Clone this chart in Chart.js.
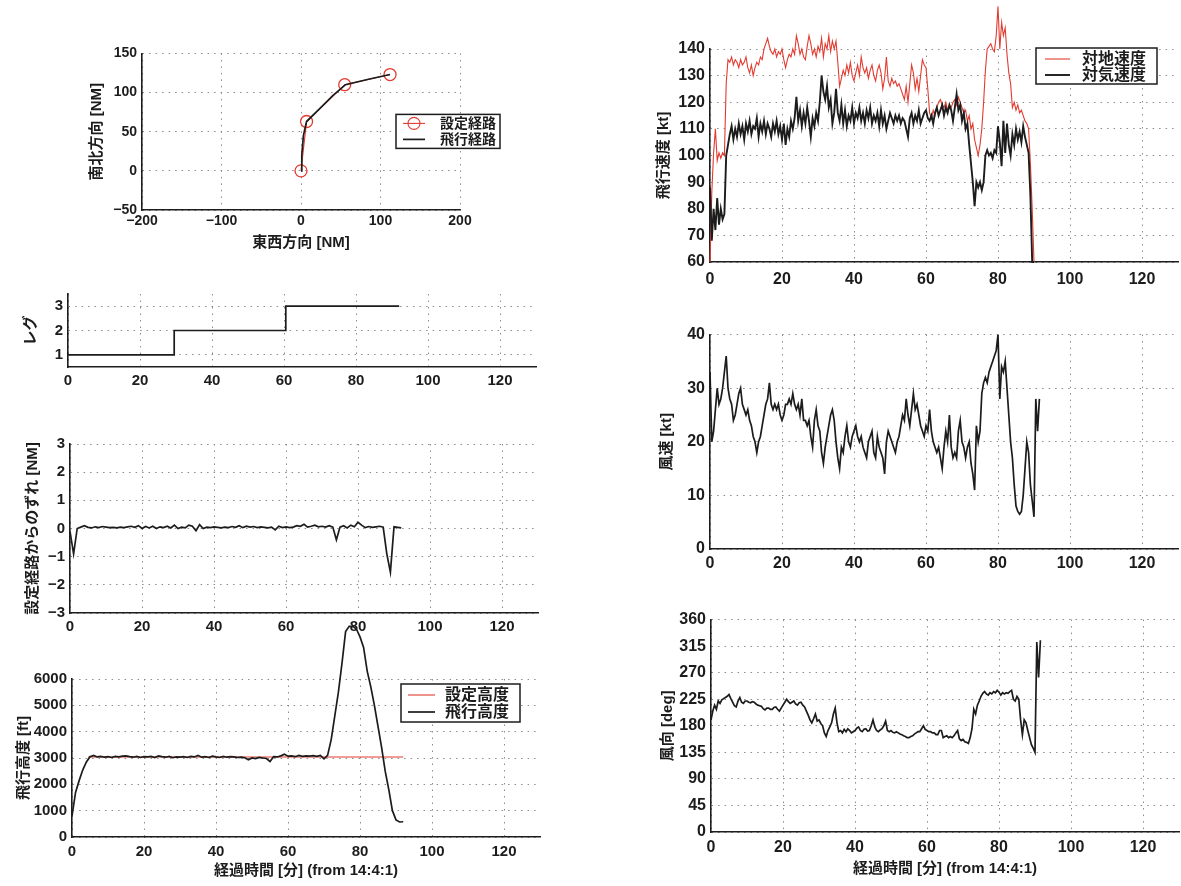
<!DOCTYPE html>
<html>
<head>
<meta charset="utf-8">
<script src="https://cdn.jsdelivr.net/npm/chart.js@4.4.1/dist/chart.umd.min.js"></script>
<style>
  html, body { margin: 0; padding: 0; background: #fff; }
  #fig { position: relative; width: 1181px; height: 886px; overflow: hidden; background: #fff; }
  #fig canvas { position: absolute; }
</style>
</head>
<body>
<div id="fig"></div>
<script>
// ---- 経路 (NM) ----
const routeEW = [0, 7, 55, 112];
const routeNS = [0, 63, 110, 123];
const flightEW = [0, 1, 3, 7, 20, 40, 56, 85, 112];
const flightNS = [0, 20, 45, 63, 76, 96, 110, 117, 123];
const routeXTicks = [-200, -100, 0, 100, 200];
const routeYTicks = [-50, 0, 50, 100, 150];

// ---- レグ ----
const legStart = [0, 29.5, 60.5, 92];
const legNo = [1, 2, 3, 3];
const legTicks = [1, 2, 3];

// 経過時間の目盛り
const timeTicks = [0, 20, 40, 60, 80, 100, 120];

// ---- 設定経路からのずれ [NM], 1分毎 ----
const devStep = 1;
const deviation = [
  -0.1, -0.9, 0.0, 0.05, 0.1, 0.04, 0.02, 0.06, 0.03, 0.07,
  0.05, 0.03, 0.04, 0.02, 0.05, 0.03, 0.06, 0.08, 0.04, 0.1,
  0.0, 0.07, 0.02, 0.08, 0.0, 0.06, 0.03, 0.08, 0.02, 0.12,
  0.0, 0.05, 0.02, 0.12, 0.08, -0.08, 0.14, 0.0, 0.05, 0.03,
  0.06, 0.04, 0.02, 0.05, 0.03, 0.07, 0.04, 0.1, 0.03, 0.08,
  0.05, 0.07, 0.03, 0.06, 0.04, 0.02, 0.05, -0.05, 0.08, 0.03,
  0.06, 0.03, 0.05, 0.1, 0.08, 0.15, 0.05, 0.08, 0.12, 0.06,
  0.08, 0.05, 0.1, 0.05, -0.4, 0.05, 0.1, 0.02, 0.12, 0.06,
  0.22, 0.12, 0.03, 0.07, 0.04, 0.06, 0.08, 0.05, -0.9, -1.55,
  0.06, 0.04, 0.02
];
const devTicks = [-3, -2, -1, 0, 1, 2, 3];

// ---- 高度 [ft], 1分毎 ----
const altStep = 1;
const altitude = [
  800, 1700, 2150, 2550, 2850, 3050, 3100, 3040, 3060, 3030,
  3050, 3020, 3060, 3040, 3070, 3080, 3050, 3030, 3060, 3020,
  3050, 3040, 3060, 3020, 3080, 3050, 3030, 3060, 3010, 3040,
  3030, 3050, 3020, 3060, 3040, 3100, 3030, 3050, 3020, 3070,
  3040, 3020, 3060, 3030, 3050, 3040, 3020, 3030, 3010, 2930,
  3000, 2980, 3020, 3000, 2980, 2870, 3050, 3040, 3080, 3140,
  3070, 3080, 3050, 3100, 3060, 3080, 3070, 3090, 3060, 3100,
  2970, 3100, 3700, 4600, 5500, 6600, 7800, 8000, 8000, 7900,
  7600, 7200, 6300, 5700, 5000, 4200, 3400, 2500, 1800, 1000,
  650, 570, 580
];
const setAltTime = [4.5, 92];
const setAlt = [3040, 3040];
const altTicks = [0, 1000, 2000, 3000, 4000, 5000, 6000];

// ---- 速度 [kt], 0.5分毎 ----
const spdStep = 0.5;
const groundSpeed = [
  60, 86, 101, 110, 98, 101, 99, 101, 100, 127,
  136, 135, 137, 134, 136, 135, 133, 136, 134, 135,
  137, 133, 131, 134, 130, 133, 135, 134, 137, 136,
  140, 142, 144, 141, 139, 138, 140, 137, 139, 138,
  140, 136, 133, 136, 138, 137, 140, 138, 145, 142,
  138, 140, 137, 136, 141, 145, 142, 138, 140, 137,
  141, 139, 144, 137, 142, 140, 145, 139, 143, 140,
  143, 135, 126, 129, 132, 130, 134, 131, 135, 130,
  128, 131, 134, 130, 137, 133, 131, 133, 129, 132,
  134, 130, 128, 132, 134, 131, 125, 129, 137, 128,
  126, 129, 127, 128, 126, 127, 125, 123, 121, 126,
  120, 127, 134, 131, 125, 129, 124, 130, 136, 134,
  133, 125, 116, 114, 117, 115, 118, 120, 121, 119,
  118, 120, 117, 119, 118, 120, 121, 119, 122, 120,
  118, 116, 117, 113, 115, 110, 112, 106, 103, 100,
  104, 110, 120, 132, 140, 141, 142, 140, 139, 145,
  156, 140, 150, 145, 148, 138, 131, 127, 118, 120,
  117, 119, 116, 117, 115, 113, 112, 110, 97, 80,
  60
];
const airSpeed = [
  88, 68, 80, 72, 84, 74, 80, 76, 78, 100,
  104, 108, 111, 106, 110, 107, 112, 108, 111, 106,
  112, 109, 113, 108, 111, 110, 114, 107, 112, 109,
  113, 108, 112, 110, 107, 112, 109, 113, 108, 111,
  106, 112, 104, 110, 107, 113, 110, 114, 122, 113,
  117, 111, 116, 112, 118, 113, 107, 114, 111, 116,
  113, 120, 130, 124, 121, 126, 118, 121, 112, 116,
  125, 116, 113, 119, 112, 117, 111, 115, 113, 118,
  112, 116, 114, 118, 113, 116, 112, 117, 114, 118,
  112, 115, 113, 116, 111, 117, 112, 115, 110, 113,
  116, 114, 112, 115, 113, 115, 112, 114, 113, 110,
  107, 114, 116, 112, 115, 113, 117, 112, 114, 116,
  117, 114, 113, 115, 112, 116, 118, 115, 117, 119,
  115, 118, 116, 119, 117, 113, 118, 123, 117, 119,
  113, 116, 110, 112, 104, 97, 90, 81, 90, 88,
  90, 87, 90, 100, 102, 100, 101, 99, 102, 101,
  111, 105, 96, 113, 101, 112, 104, 100, 108, 104,
  110, 106, 109, 105, 111, 107, 104, 101, 85, 60,
  60
];
const spdTicks = [60, 70, 80, 90, 100, 110, 120, 130, 140];

// ---- 風速 [kt] / 風向 [deg], 0.5分毎 ----
const windStep = 0.5;
const windSpeed = [
  33, 20, 22, 26, 30, 27, 28, 30, 33, 36,
  30, 28, 27, 24, 25, 27, 29, 30, 27, 26,
  25, 26, 24, 23, 21, 20, 18, 20, 21, 23,
  25, 27, 28, 31, 27, 26, 27, 26, 27, 25,
  24, 25, 27, 27, 28, 27, 29, 27, 26, 27,
  25, 28, 24, 24, 23, 24, 21, 19, 24, 26,
  23, 22, 18, 16, 19, 21, 23, 25, 26, 24,
  20, 17, 15, 19, 18, 21, 23, 20, 19, 21,
  22, 23, 21, 20, 21, 19, 18, 17, 20, 21,
  22, 18, 17, 21, 19, 18, 17, 14, 20, 22,
  21, 20, 19, 18, 20, 21, 23, 25, 24, 28,
  25, 23, 26, 29, 26, 27, 25, 23, 22, 21,
  23, 22, 26, 22, 20, 19, 18, 19, 17, 15,
  19, 22, 20, 25, 19, 17, 18, 17, 22, 24,
  20, 19, 17, 19, 20, 16, 14, 11, 23, 20,
  22, 29, 31, 32, 31, 33, 34, 35, 36, 37,
  40, 28, 34, 33, 35, 30, 25, 20, 17, 12,
  8, 7, 6.5, 7, 10, 15, 20, 18, 12, 9,
  6, 28, 22, 28
];
const windTicks = [0, 10, 20, 30, 40];
const windDir = [
  190, 205, 215, 208, 222, 218, 224, 226, 228, 230,
  233, 226, 220, 214, 212, 222, 228, 220, 218, 222,
  222, 220, 219, 221, 220, 217, 215, 214, 213, 209,
  207, 210, 210, 208, 208, 211, 212, 208, 205, 210,
  215, 220, 225, 221, 218, 220, 222, 217, 215, 219,
  220, 215, 212, 205, 198, 190, 185, 192, 200, 188,
  190, 184, 180, 168, 162, 172, 178, 185, 200, 210,
  185, 170, 172, 168, 174, 170, 175, 172, 168, 170,
  172, 176, 178, 172, 170, 174, 175, 171, 172, 180,
  190, 178, 172, 170, 173, 175, 180, 188, 172, 170,
  172, 169, 168, 170, 168, 166, 165, 163, 162, 160,
  160, 162, 163, 166, 168, 170, 170, 175, 180, 174,
  172, 170, 170, 168, 168, 165, 165, 172, 172, 160,
  162, 163, 160, 162, 160, 163, 168, 172, 158, 155,
  157, 153, 152, 150, 160, 175, 208, 200, 215, 222,
  230, 235, 238, 234, 232, 236, 234, 238, 236, 240,
  237, 232, 236, 234, 236, 235, 238, 240, 225, 222,
  230, 225, 190, 165, 190, 185, 172, 160, 148, 142,
  135, 322, 262, 325
];
const dirTicks = [0, 45, 90, 135, 180, 225, 270, 315, 360];

// ---- 描画 ----
const FONT = '"Liberation Sans", "Noto Sans CJK JP", sans-serif';
const INK = '#1c1c1c';
const RED = '#e23b30';
Chart.defaults.font.family = FONT;
Chart.defaults.color = INK;

const fmt = v => (v < 0 ? '\u2212' + Math.abs(v) : String(v));
const series = (vals, step) => vals.map((v, i) => ({ x: i * step, y: v }));
const pairs = (xs, ys) => xs.map((x, i) => ({ x: x, y: ys[i] }));
const X_TITLE = '経過時間 [分] (from 14:4:1)';

function axis(a, horizontal) {
  return {
    type: 'linear',
    min: a.min,
    max: a.max,
    afterBuildTicks: s => { s.ticks = a.ticks.map(v => ({ value: v })); },
    afterFit: s => { if (horizontal) s.height = a.size; else s.width = a.size; },
    grid: { color: '#8c8c8c', lineWidth: 1, drawTicks: false },
    border: { display: true, color: INK, width: 1.6, dash: [1.5, 5] },
    ticks: {
      color: INK,
      font: { size: a.font || 15, weight: 'bold' },
      padding: a.pad !== undefined ? a.pad : (horizontal ? 6 : 5),
      autoSkip: false,
      maxRotation: 0,
      callback: v => fmt(v)
    },
    title: a.title
      ? { display: true, text: a.title, color: INK, font: { size: 15, weight: 'bold' }, padding: 4 }
      : { display: false }
  };
}

// 枠付きの凡例 (MATLAB 風)
function boxLegend(L) {
  return {
    id: 'boxLegend',
    afterDatasetsDraw(chart) {
      const { ctx, chartArea } = chart;
      const x0 = chartArea.left + L.dx, y0 = chartArea.top + L.dy;
      ctx.save();
      ctx.fillStyle = '#fff';
      ctx.fillRect(x0, y0, L.w, L.h);
      ctx.strokeStyle = INK;
      ctx.lineWidth = 1.5;
      ctx.strokeRect(x0, y0, L.w, L.h);
      ctx.font = 'bold ' + L.size + 'px ' + FONT;
      ctx.textBaseline = 'middle';
      chart.data.datasets.forEach((ds, i) => {
        const y = y0 + L.rows[i];
        ctx.strokeStyle = ds.borderColor;
        ctx.lineWidth = ds.borderWidth;
        ctx.beginPath();
        ctx.moveTo(x0 + L.line[0], y);
        ctx.lineTo(x0 + L.line[1], y);
        ctx.stroke();
        if (ds.pointRadius) {
          ctx.beginPath();
          ctx.arc(x0 + (L.line[0] + L.line[1]) / 2, y, ds.pointRadius, 0, Math.PI * 2);
          ctx.stroke();
        }
        ctx.fillStyle = INK;
        ctx.fillText(ds.label, x0 + L.text, y + 1);
      });
      ctx.restore();
    }
  };
}

function panel(cfg) {
  const c = document.createElement('canvas');
  c.width = cfg.box[2];
  c.height = cfg.box[3];
  c.style.left = cfg.box[0] + 'px';
  c.style.top = cfg.box[1] + 'px';
  document.getElementById('fig').appendChild(c);
  return new Chart(c, {
    type: 'line',
    data: { datasets: cfg.datasets },
    options: {
      responsive: false,
      animation: false,
      devicePixelRatio: 1,
      layout: { padding: cfg.pad },
      elements: { point: { radius: 0 }, line: { tension: 0 } },
      plugins: { legend: { display: false }, tooltip: { enabled: false } },
      scales: { x: axis(cfg.x, true), y: axis(cfg.y, false) }
    },
    plugins: cfg.legend ? [boxLegend(cfg.legend)] : []
  });
}

const black = (label, data, extra) => Object.assign({ label, data, borderColor: INK, borderWidth: 1.7, pointRadius: 0, order: 0 }, extra || {});
const red = (label, data, extra) => Object.assign({ label, data, borderColor: RED, borderWidth: 1.1, pointRadius: 0, order: 1 }, extra || {});

// 経路
panel({
  box: [84, 40, 421, 216], pad: { top: 13, right: 45, left: 0, bottom: 0 },
  x: { min: -200, max: 200, ticks: routeXTicks, size: 46, title: '東西方向 [NM]', font: 14, pad: 3 },
  y: { min: -50, max: 150, ticks: routeYTicks, size: 58, title: '南北方向 [NM]', font: 14 },
  datasets: [
    red('設定経路', pairs(routeEW, routeNS), {
      pointRadius: 6, pointStyle: 'circle', pointBorderColor: RED, pointBorderWidth: 1.3,
      pointBackgroundColor: 'rgba(0,0,0,0)'
    }),
    black('飛行経路', pairs(flightEW, flightNS))
  ],
  legend: { dx: 254, dy: 61, w: 104, h: 34, line: [7, 29], text: 44, rows: [9, 25], size: 14 }
});

// レグ
panel({
  box: [18, 280, 528, 109], pad: { top: 10, right: 10, left: 0, bottom: 0 },
  x: { min: 0, max: 130, ticks: timeTicks, size: 22, pad: 5 },
  y: { min: 0.5, max: 3.5, ticks: legTicks, size: 50, title: 'レグ' },
  datasets: [black('レグ', pairs(legStart, legNo), { stepped: 'before' })]
});

// ずれ
panel({
  box: [20, 430, 528, 205], pad: { top: 12, right: 10, left: 0, bottom: 0 },
  x: { min: 0, max: 130, ticks: timeTicks, size: 22, pad: 5 },
  y: { min: -3, max: 3, ticks: devTicks, size: 50, title: '設定経路からのずれ [NM]' },
  datasets: [black('ずれ', series(deviation, devStep))]
});

// 高度
panel({
  box: [11, 620, 539, 264], pad: { top: 59, right: 10, left: 0, bottom: 0 },
  x: { min: 0, max: 130, ticks: timeTicks, size: 47, title: X_TITLE },
  y: { min: 0, max: 6000, ticks: altTicks, size: 61, title: '飛行高度 [ft]' },
  datasets: [
    red('設定高度', pairs(setAltTime, setAlt)),
    black('飛行高度', series(altitude, altStep), { clip: false })
  ],
  legend: { dx: 329, dy: 5, w: 119, h: 38, line: [7, 34], text: 44, rows: [11, 28], size: 16 }
});

// 速度
panel({
  box: [651, 0, 530, 284], pad: { top: 49, right: 3, left: 0, bottom: 0 },
  x: { min: 0, max: 130, ticks: timeTicks, size: 22, font: 16, pad: 8 },
  y: { min: 60, max: 140, ticks: spdTicks, size: 59, title: '飛行速度 [kt]', font: 16 },
  datasets: [
    red('対地速度', series(groundSpeed, spdStep), { clip: false }),
    black('対気速度', series(airSpeed, spdStep), { clip: false, borderWidth: 1.9 })
  ],
  legend: { dx: 326, dy: -1, w: 121, h: 36, line: [9, 34], text: 46, rows: [11, 27], size: 16 }
});

// 風速
panel({
  box: [654, 320, 527, 251], pad: { top: 13, right: 3, left: 0, bottom: 0 },
  x: { min: 0, max: 130, ticks: timeTicks, size: 22, font: 16, pad: 5 },
  y: { min: 0, max: 40, ticks: windTicks, size: 56, title: '風速 [kt]', font: 16 },
  datasets: [black('風速', series(windSpeed, windStep))]
});

// 風向
panel({
  box: [655, 605, 526, 277], pad: { top: 12, right: 2, left: 0, bottom: 0 },
  x: { min: 0, max: 130, ticks: timeTicks, size: 50, title: X_TITLE, font: 16 },
  y: { min: 0, max: 360, ticks: dirTicks, size: 56, title: '風向 [deg]', font: 16 },
  datasets: [black('風向', series(windDir, windStep))]
});
</script>
</body>
</html>
